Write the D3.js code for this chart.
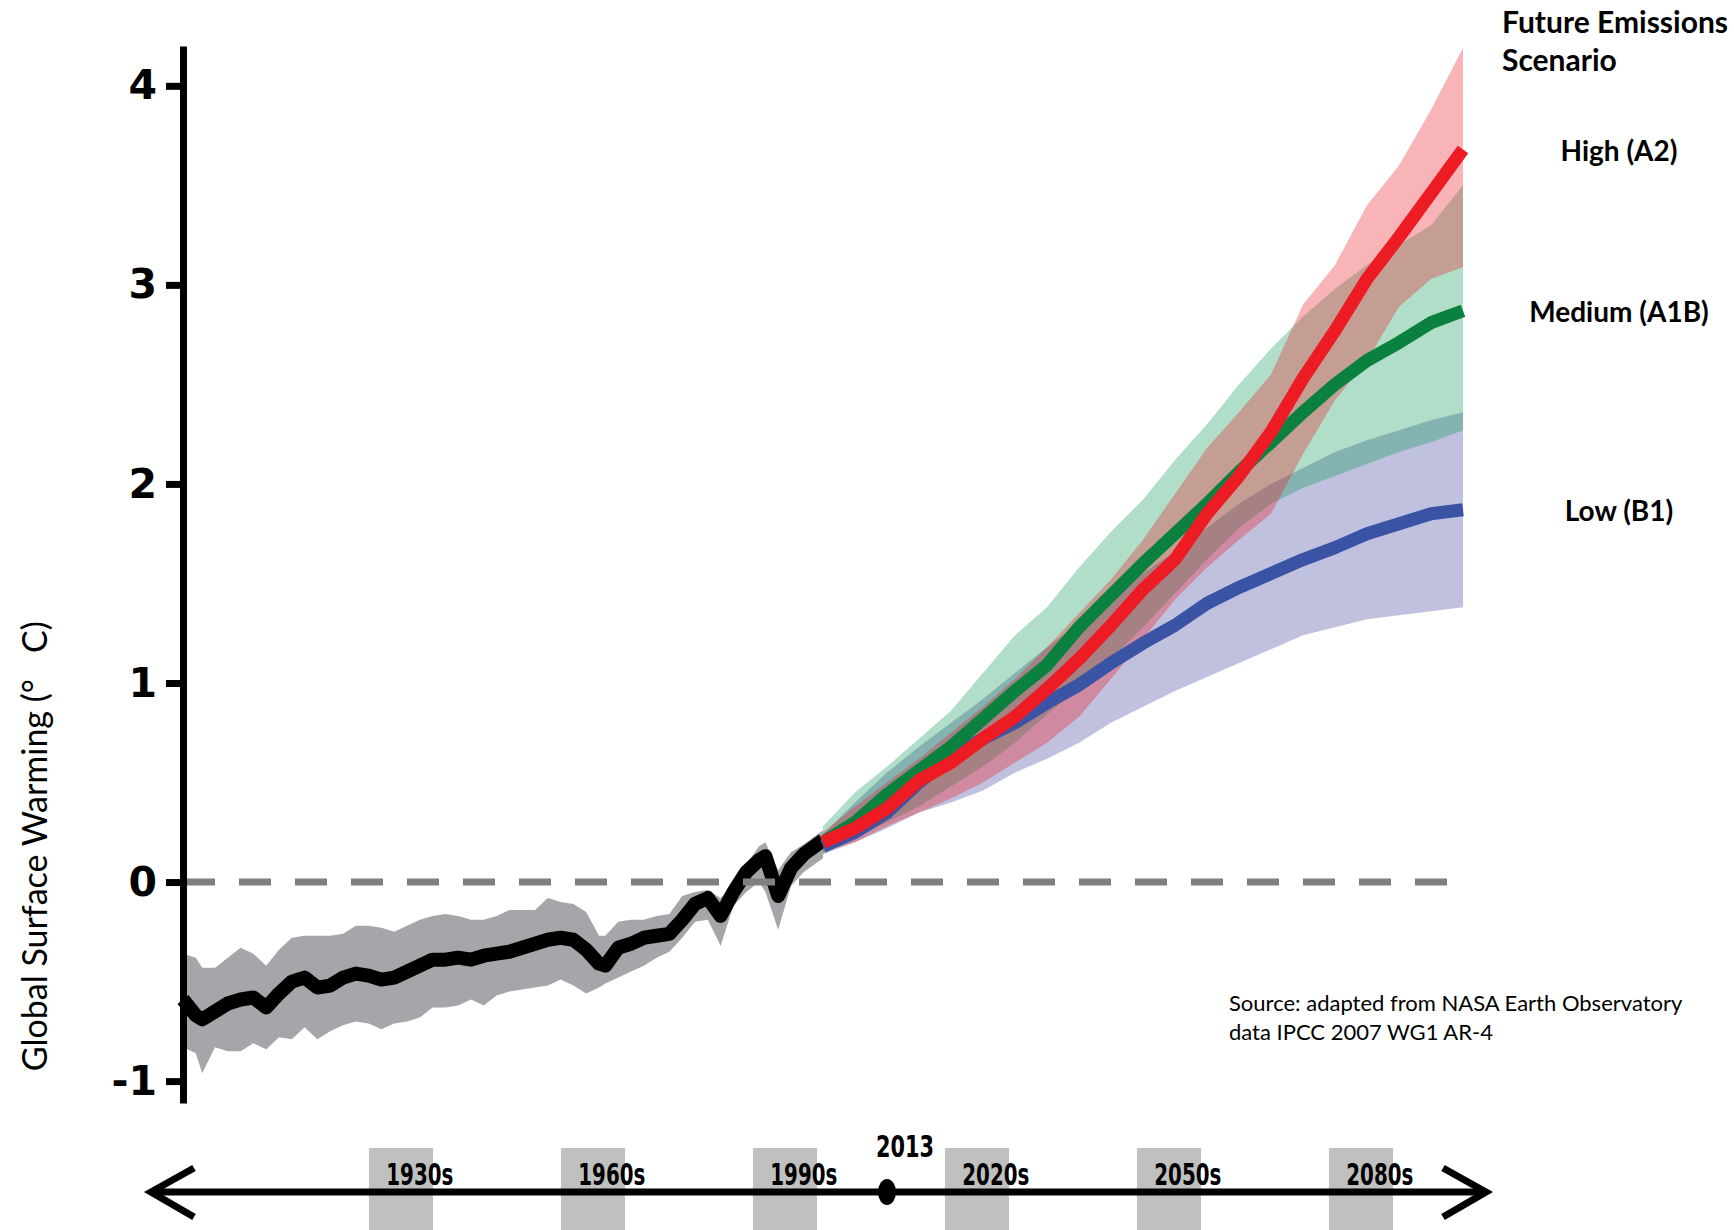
<!DOCTYPE html>
<html>
<head>
<meta charset="utf-8">
<script src="https://d3js.org/d3.v7.min.js"></script>
<style>
  body { margin: 0; background: #fff; }
  svg { display: block; }
</style>
</head>
<body>
<svg id="chart" width="1734" height="1230"></svg>
<script>
  // observed record, 1900-2000 (degrees C relative to baseline)
  var histYears = [1900, 1902, 1903, 1905, 1907, 1909, 1911, 1913, 1915, 1917, 1919, 1921, 1923,
    1925, 1927, 1929, 1931, 1933, 1935, 1937, 1939, 1941, 1943, 1945, 1947, 1949, 1951, 1953,
    1955, 1957, 1959, 1961, 1963, 1965, 1966, 1968, 1970, 1972, 1974, 1976, 1978, 1980, 1982,
    1984, 1986, 1988, 1990, 1991, 1993, 1995, 1997, 2000];
  var histMean = [-0.59, -0.67, -0.69, -0.65, -0.61, -0.59, -0.58, -0.63, -0.56, -0.50, -0.48, -0.53, -0.52,
    -0.48, -0.46, -0.47, -0.49, -0.48, -0.45, -0.42, -0.39, -0.39, -0.38, -0.39, -0.37, -0.36, -0.35, -0.33,
    -0.31, -0.29, -0.28, -0.29, -0.34, -0.41, -0.42, -0.33, -0.31, -0.28, -0.27, -0.26, -0.19, -0.11, -0.08,
    -0.17, -0.05, 0.05, 0.11, 0.13, -0.07, 0.07, 0.14, 0.21];
  var histHigh = [-0.36, -0.38, -0.43, -0.43, -0.38, -0.33, -0.36, -0.42, -0.34, -0.28, -0.27, -0.27, -0.27,
    -0.26, -0.22, -0.22, -0.23, -0.25, -0.22, -0.19, -0.17, -0.16, -0.17, -0.19, -0.19, -0.17, -0.14, -0.14,
    -0.14, -0.08, -0.10, -0.11, -0.15, -0.27, -0.27, -0.20, -0.19, -0.19, -0.17, -0.16, -0.07, -0.05, -0.04,
    -0.08, -0.01, 0.09, 0.18, 0.20, 0.06, 0.15, 0.19, 0.26];
  var histLow = [-0.83, -0.86, -0.96, -0.83, -0.85, -0.85, -0.81, -0.84, -0.78, -0.79, -0.73, -0.79, -0.75,
    -0.72, -0.70, -0.71, -0.74, -0.71, -0.70, -0.68, -0.63, -0.63, -0.62, -0.59, -0.62, -0.57, -0.55, -0.54,
    -0.53, -0.52, -0.49, -0.52, -0.56, -0.53, -0.51, -0.48, -0.45, -0.42, -0.38, -0.35, -0.28, -0.20, -0.19,
    -0.32, -0.12, -0.05, 0.00, -0.05, -0.24, -0.02, 0.05, 0.12];

  // projections 2000-2100
  var projYears = [2000, 2005, 2010, 2015, 2020, 2025, 2030, 2035, 2040, 2045, 2050,
    2055, 2060, 2065, 2070, 2075, 2080, 2085, 2090, 2095, 2100];
  var a2Mean = [0.20, 0.27, 0.37, 0.51, 0.60, 0.72, 0.83, 0.97, 1.12, 1.29, 1.47, 1.62, 1.85, 2.04, 2.26, 2.53, 2.77, 3.03, 3.24, 3.46, 3.68];
  var a2High = [0.25, 0.38, 0.50, 0.62, 0.75, 0.88, 1.02, 1.18, 1.35, 1.52, 1.72, 1.95, 2.18, 2.36, 2.55, 2.90, 3.10, 3.40, 3.60, 3.88, 4.19];
  var a2Low = [0.15, 0.20, 0.28, 0.35, 0.42, 0.50, 0.60, 0.70, 0.83, 1.02, 1.22, 1.42, 1.58, 1.72, 1.85, 2.15, 2.42, 2.62, 2.89, 3.03, 3.09];
  var a1bMean = [0.20, 0.30, 0.44, 0.56, 0.68, 0.82, 0.96, 1.09, 1.28, 1.44, 1.60, 1.75, 1.90, 2.06, 2.21, 2.36, 2.50, 2.62, 2.71, 2.81, 2.87];
  var a1bHigh = [0.28, 0.45, 0.58, 0.72, 0.86, 1.05, 1.24, 1.38, 1.58, 1.76, 1.92, 2.12, 2.30, 2.50, 2.68, 2.84, 2.98, 3.10, 3.20, 3.30, 3.50];
  var a1bLow = [0.14, 0.22, 0.30, 0.38, 0.48, 0.58, 0.70, 0.84, 0.98, 1.12, 1.28, 1.45, 1.62, 1.78, 1.90, 1.98, 2.04, 2.10, 2.16, 2.21, 2.27];
  var b1Mean = [0.18, 0.25, 0.35, 0.50, 0.63, 0.72, 0.80, 0.90, 0.99, 1.10, 1.20, 1.29, 1.40, 1.48, 1.55, 1.62, 1.68, 1.75, 1.80, 1.85, 1.87];
  var b1High = [0.24, 0.40, 0.55, 0.68, 0.80, 0.92, 1.05, 1.18, 1.30, 1.42, 1.55, 1.66, 1.78, 1.90, 2.00, 2.08, 2.16, 2.22, 2.27, 2.32, 2.36];
  var b1Low = [0.14, 0.20, 0.27, 0.35, 0.40, 0.46, 0.55, 0.62, 0.70, 0.80, 0.88, 0.96, 1.03, 1.10, 1.17, 1.24, 1.28, 1.32, 1.34, 1.36, 1.38];

  var yTicks = [-1, 0, 1, 2, 3, 4];
  var decades = [1930, 1960, 1990, 2020, 2050, 2080];
  var markerLabel = "2013";
  var markerPos = 2010; // where the marker sits on the drawn timeline
  var legendTitle = ["Future Emissions", "Scenario"];
  var sourceLines = ["Source: adapted from NASA Earth Observatory", "data IPCC 2007 WG1 AR-4"];

  var scenarios = [
    { label: "Low (B1)", mean: b1Mean, low: b1Low, high: b1High, band: "rgb(46,49,146)", bandOpacity: 0.30, line: "#3a53a4" },
    { label: "Medium (A1B)", mean: a1bMean, low: a1bLow, high: a1bHigh, band: "rgb(0,150,80)", bandOpacity: 0.31, line: "#0a813f" },
    { label: "High (A2)", mean: a2Mean, low: a2Low, high: a2High, band: "#ed1c24", bandOpacity: 0.33, line: "#ed1c24" }
  ];

  var svg = d3.select("#chart");

  var x = d3.scaleLinear().domain([1900, 2100]).range([183, 1463]);
  var y = d3.scaleLinear().domain([-1.11, 4.2]).range([1103, 46]);

  function band(years) {
    return d3.area()
      .x(function(d, i) { return x(years[i]); })
      .y0(function(d) { return y(d[0]); })
      .y1(function(d) { return y(d[1]); });
  }
  function line(years) {
    return d3.line()
      .x(function(d, i) { return x(years[i]); })
      .y(function(d) { return y(d); });
  }

  // historical band + line
  var histBand = histLow.map(function(v, i) { return [v, histHigh[i]]; });
  svg.append("path")
    .attr("d", band(histYears)(histBand))
    .attr("fill", "#a5a6aa");
  svg.append("path")
    .attr("d", line(histYears)(histMean))
    .attr("fill", "none")
    .attr("stroke", "#000")
    .attr("stroke-width", 14)
    .attr("stroke-linejoin", "round");

  // zero reference
  svg.append("line")
    .attr("x1", x(1900)).attr("x2", x(2098))
    .attr("y1", y(0)).attr("y2", y(0))
    .attr("stroke", "#808080")
    .attr("stroke-width", 7)
    .attr("stroke-dasharray", "32,24");

  // projection bands, then lines on top
  scenarios.forEach(function(s) {
    var b = s.low.map(function(v, i) { return [v, s.high[i]]; });
    svg.append("path")
      .attr("d", band(projYears)(b))
      .attr("fill", s.band)
      .attr("fill-opacity", s.bandOpacity);
  });
  scenarios.forEach(function(s) {
    svg.append("path")
      .attr("d", line(projYears)(s.mean))
      .attr("fill", "none")
      .attr("stroke", s.line)
      .attr("stroke-width", 13)
      .attr("stroke-linejoin", "round");
  });

  // y axis
  var yAxis = d3.axisLeft(y).tickValues(yTicks).tickSize(17).tickSizeOuter(0).tickPadding(9)
    .tickFormat(function(d) { return String(d); });
  var ya = svg.append("g")
    .attr("transform", "translate(" + x(1900) + ",0)")
    .call(yAxis);
  ya.select(".domain").attr("stroke", "#000").attr("stroke-width", 7);
  ya.selectAll(".tick line").attr("stroke", "#000").attr("stroke-width", 7);
  ya.selectAll(".tick text")
    .attr("fill", "#000")
    .style("font-family", "'DejaVu Sans', Verdana, sans-serif")
    .style("font-weight", "bold")
    .style("font-size", "41px");

  svg.append("text")
    .attr("transform", "translate(33," + y(0.18) + ") rotate(-90)")
    .attr("text-anchor", "middle")
    .attr("dominant-baseline", "central")
    .style("font-family", "Lato, 'Open Sans', sans-serif")
    .style("font-size", "34px")
    .text("Global Surface Warming (°\u00a0\u00a0\u00a0C)");

  // scenario labels at the end of each line
  var labelX = x.range()[1] + 156;
  svg.selectAll(".scen-label")
    .data(scenarios)
    .enter().append("text")
    .attr("class", "scen-label")
    .attr("x", labelX)
    .attr("y", function(d) { return y(d.mean[d.mean.length - 1]); })
    .attr("text-anchor", "middle")
    .attr("dominant-baseline", "central")
    .style("font-family", "Lato, 'Open Sans', sans-serif")
    .style("font-weight", "bold")
    .style("font-size", "28px")
    .text(function(d) { return d.label; });

  svg.selectAll(".legend-title")
    .data(legendTitle)
    .enter().append("text")
    .attr("class", "legend-title")
    .attr("x", 1502)
    .attr("y", function(d, i) { return 33 + i * 38; })
    .style("font-family", "Lato, 'Open Sans', sans-serif")
    .style("font-weight", "bold")
    .style("font-size", "30px")
    .text(function(d) { return d; });

  svg.selectAll(".source")
    .data(sourceLines)
    .enter().append("text")
    .attr("class", "source")
    .attr("x", 1229)
    .attr("y", function(d, i) { return 1011 + i * 29; })
    .style("font-family", "Lato, 'Open Sans', sans-serif")
    .style("font-size", "22px")
    .text(function(d) { return d; });

  // timeline under the chart
  var tlY = 1192;
  var narrow = "'Liberation Sans Narrow', 'Arial Narrow', 'DejaVu Sans Condensed', sans-serif";
  var tl = svg.append("g");
  tl.selectAll("rect")
    .data(decades)
    .enter().append("rect")
    .attr("x", function(d) { return x(d) - 6; })
    .attr("y", 1148)
    .attr("width", function(d) { return x(d + 10) - x(d); })
    .attr("height", 82)
    .attr("fill", "#c0c0c0");
  tl.append("line")
    .attr("x1", 152).attr("x2", 1484)
    .attr("y1", tlY).attr("y2", tlY)
    .attr("stroke", "#000").attr("stroke-width", 7);
  tl.append("path")
    .attr("d", "M194," + (tlY - 24) + "L151," + tlY + "L194," + (tlY + 25))
    .attr("fill", "none").attr("stroke", "#000").attr("stroke-width", 7);
  tl.append("path")
    .attr("d", "M1443," + (tlY - 24) + "L1486," + tlY + "L1443," + (tlY + 25))
    .attr("fill", "none").attr("stroke", "#000").attr("stroke-width", 7);
  tl.selectAll(".dec")
    .data(decades)
    .enter().append("text")
    .attr("class", "dec")
    .attr("x", function(d) { return x(d + 7); })
    .attr("y", 1185)
    .attr("text-anchor", "middle")
    .attr("textLength", 67)
    .attr("lengthAdjust", "spacingAndGlyphs")
    .style("font-family", narrow)
    .style("font-weight", "bold")
    .style("font-size", "30px")
    .text(function(d) { return d + "s"; });
  tl.append("ellipse")
    .attr("cx", x(markerPos)).attr("cy", tlY)
    .attr("rx", 9).attr("ry", 13)
    .attr("fill", "#000");
  tl.append("text")
    .attr("x", x(markerPos) + 18)
    .attr("y", 1157)
    .attr("text-anchor", "middle")
    .attr("textLength", 58)
    .attr("lengthAdjust", "spacingAndGlyphs")
    .style("font-family", narrow)
    .style("font-weight", "bold")
    .style("font-size", "30px")
    .text(markerLabel);
</script>
</body>
</html>
